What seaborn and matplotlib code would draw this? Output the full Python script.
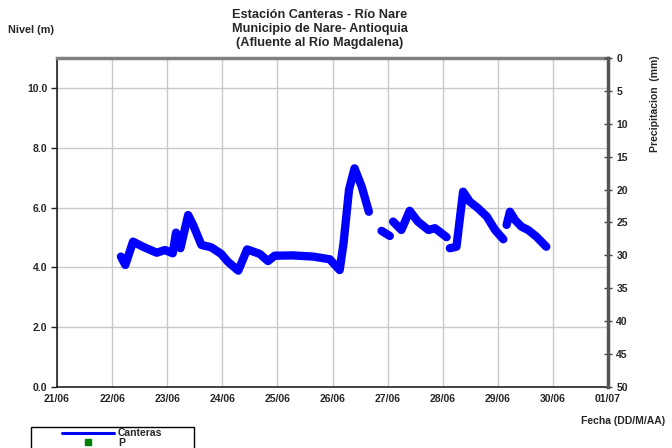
import numpy as np
import pandas as pd
import seaborn as sns
import matplotlib.pyplot as plt
from matplotlib.lines import Line2D
from matplotlib.patches import Rectangle

# Nivel readings (day of June, fractional) split into the gapped segments
day = [22.16, 22.24, 22.38, 22.56, 22.81, 22.96, 23.10, 23.16, 23.24, 23.38,
       23.47, 23.62, 23.80, 23.98, 24.10, 24.29, 24.45, 24.68, 24.83, 24.95,
       25.28, 25.65, 25.95, 26.13, 26.20, 26.30, 26.40, 26.53, 26.66,
       26.89, 27.04,
       27.10, 27.25, 27.40, 27.55, 27.74, 27.86, 28.07,
       28.13, 28.25, 28.37, 28.49, 28.64, 28.80, 28.95, 29.10,
       29.16, 29.22, 29.31, 29.43, 29.55, 29.70, 29.88]
nivel = [4.36, 4.08, 4.86, 4.69, 4.49, 4.58, 4.47, 5.16, 4.64, 5.75,
         5.42, 4.75, 4.67, 4.45, 4.19, 3.89, 4.60, 4.45, 4.21, 4.39,
         4.40, 4.36, 4.27, 3.91, 4.80, 6.60, 7.31, 6.70, 5.86,
         5.22, 5.05,
         5.53, 5.25, 5.89, 5.53, 5.25, 5.31, 5.01,
         4.64, 4.69, 6.53, 6.20, 5.98, 5.70, 5.25, 4.94,
         5.42, 5.86, 5.59, 5.36, 5.25, 5.03, 4.69]
segment = [0] * 29 + [1] * 2 + [2] * 7 + [3] * 8 + [4] * 7

x_labels = ['21/06', '22/06', '23/06', '24/06', '25/06', '26/06',
            '27/06', '28/06', '29/06', '30/06', '01/07']
precip_ticks = list(range(0, 55, 5))

df = pd.DataFrame({'dia': day, 'nivel': nivel, 'seg': segment})

sns.set_style('white')
plt.rcParams['font.family'] = ['Liberation Sans', 'DejaVu Sans']
plt.rcParams['font.weight'] = 'bold'

W, H = 672, 448
fig = plt.figure(figsize=(6.72, 4.48), dpi=100)
ax = fig.add_axes([57 / W, 1 - 387 / H, 551 / W, 329 / H])

sns.lineplot(data=df, x='dia', y='nivel', units='seg', estimator=None,
             sort=False, color='#0000ff', lw=6, solid_capstyle='round',
             solid_joinstyle='round', ax=ax)

ax.set_xlim(21, 31)
ax.set_ylim(0, 11)
ax.set_xticks(range(21, 32))
ax.set_xticklabels(x_labels, fontsize=7.5, fontweight='bold')
ax.set_yticks(np.arange(0, 11, 2))
ax.set_yticklabels([f'{v:.1f}' for v in np.arange(0, 11, 2)], fontsize=7.5,
                   fontweight='bold')
ax.grid(True, color='#c8c8c8', lw=1)
ax.set_xlabel('')
ax.set_ylabel('')
ax.tick_params(axis='x', length=0, pad=5)
ax.tick_params(axis='y', length=4, width=1, color='#222222', direction='out', pad=3)
for s in ['left', 'bottom']:
    ax.spines[s].set_color('#222222')
    ax.spines[s].set_linewidth(1.2)
ax.spines['top'].set_color('#808080')
ax.spines['top'].set_linewidth(2.5)
ax.spines['right'].set_visible(False)

ax2 = ax.twinx()
ax2.set_ylim(50, 0)
ax2.set_yticks(precip_ticks)
ax2.set_yticklabels([str(v) for v in precip_ticks], fontsize=7.5, fontweight='bold')
ax2.tick_params(axis='y', length=6, width=1, direction='inout', color='#444444', pad=3)
ax2.spines['right'].set_color('#555555')
ax2.spines['right'].set_linewidth(2.5)
for s in ['left', 'top', 'bottom']:
    ax2.spines[s].set_visible(False)

fig.text(320 / W, 1 - 29 / H,
         'Estación Canteras - Río Nare\nMunicipio de Nare- Antioquia\n(Afluente al Río Magdalena)',
         ha='center', va='center', fontsize=9.2, fontweight='bold', linespacing=1.2)
fig.text(8 / W, 1 - 30 / H, 'Nivel (m)', ha='left', va='center',
         fontsize=7.8, fontweight='bold')
fig.text(655 / W, 1 - 104 / H, 'Precipitacion  (mm)', rotation=90,
         ha='center', va='center', fontsize=7.5, fontweight='bold')
fig.text(665 / W, 1 - 421 / H, 'Fecha (DD/M/AA)', ha='right', va='center',
         fontsize=7.5, fontweight='bold')

# legend box, drawn in figure pixels; it runs past the bottom edge as in the original
fig.patches.append(Rectangle((31 / W, 1 - 462 / H), 163 / W, 35 / H,
                             transform=fig.transFigure, fill=False,
                             edgecolor='#000000', lw=1))
fig.lines.append(Line2D([62 / W, 114 / W], [1 - 433 / H, 1 - 433 / H],
                        transform=fig.transFigure, color='#0000ff', lw=2.2))
fig.lines.append(Line2D([88 / W], [1 - 442 / H], transform=fig.transFigure,
                        color='#008000', marker='s', ls='none', markersize=4.5))
fig.text(118 / W, 1 - 433 / H, 'Canteras', ha='left', va='center',
         fontsize=7.5, fontweight='bold')
fig.text(118 / W, 1 - 443 / H, 'P', ha='left', va='center',
         fontsize=7.5, fontweight='bold')

fig.savefig('out.png', dpi=100)
